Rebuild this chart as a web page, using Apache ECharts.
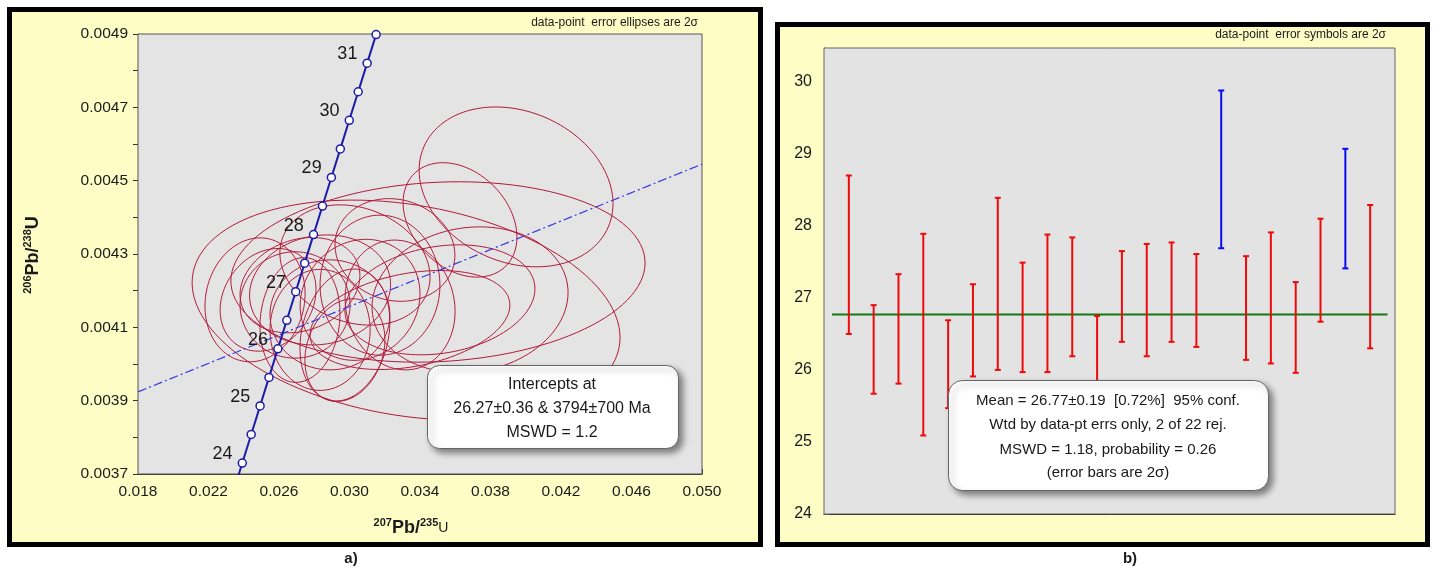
<!DOCTYPE html>
<html><head><meta charset="utf-8">
<script src="https://cdn.jsdelivr.net/npm/echarts@6/dist/echarts.min.js"></script>
<style>html,body{margin:0;padding:0;background:#fff;}#c{width:1434px;height:568px;}</style>
</head><body><div id="c"></div>
<script>
const FONT = '"Liberation Sans", Arial, sans-serif';

// ---------- Panel a) : concordia ----------
const LAMBDA238 = 1.55125e-10, LAMBDA235 = 9.8485e-10;
const concordiaAges = [23.5, 24, 24.5, 25, 25.5, 26, 26.5, 27, 27.5, 28, 28.5, 29, 29.5, 30, 30.5, 31, 31.5, 32];
const xTickLabels = ['0.018','0.022','0.026','0.030','0.034','0.038','0.042','0.046','0.050'];
const yTickLabels = ['0.0037','0.0039','0.0041','0.0043','0.0045','0.0047','0.0049'];
// discordia (regression) line end points
const discordiaX = [0.018, 0.050];
const discordiaY = [0.003924, 0.004545];
// error ellipses (2 sigma): centre, half-extents, correlation
const ellX   = [0.03321,0.03502,0.03945,0.03627,0.03684,0.02719,0.02833,0.02974,0.02691,0.02538,0.03060,0.03173,0.03287,0.03031,0.03513,0.03343,0.02833,0.02889,0.02464,0.03258,0.02974,0.02719];
const ellY   = [0.004147,0.004251,0.004483,0.004393,0.004175,0.004120,0.004093,0.004079,0.004161,0.004175,0.004175,0.004215,0.004161,0.004270,0.004175,0.004120,0.004202,0.004134,0.004175,0.004311,0.004038,0.004215];
const ellSX  = [0.01214,0.01175,0.00550,0.00323,0.00556,0.00227,0.00284,0.00255,0.00312,0.00272,0.00340,0.00340,0.00312,0.00426,0.00539,0.00567,0.00400,0.00340,0.00284,0.00340,0.00227,0.00340];
const ellSY  = [0.000300,0.000246,0.000218,0.000156,0.000199,0.000170,0.000165,0.000180,0.000145,0.000140,0.000165,0.000191,0.000177,0.000164,0.000150,0.000135,0.000150,0.000150,0.000169,0.000140,0.000140,0.000130];
const ellRho = [-0.25,0.1,-0.21,-0.3,0.1,0.1,0.0,0.2,0.0,0.2,0.1,0.0,-0.1,-0.2,0.2,0.3,0.1,0.0,0.1,-0.1,0.2,0.2];

// ---------- Panel b) : weighted mean ----------
const barLow  = [26.50,25.67,25.81,25.09,25.47,25.91,26.00,25.97,25.97,26.19,25.45,26.39,26.19,26.39,26.32,27.69,26.14,26.09,25.96,26.67,27.41,26.30];
const barHigh = [28.70,26.90,27.33,27.89,26.69,27.19,28.39,27.49,27.88,27.84,26.75,27.65,27.75,27.77,27.61,29.88,27.58,27.91,27.22,28.10,29.07,28.29];
const rejected = [16, 21];
const meanValue = 26.77;
const meanSpan = [0.32, 22.7];
const rightYLabels = ['24','25','26','27','28','29','30'];

const concData = concordiaAges.map(function (t) {
  const x = Math.exp(LAMBDA235 * t * 1e6) - 1;
  const y = Math.exp(LAMBDA238 * t * 1e6) - 1;
  const isMarker = t >= 24 && t <= 31.5;
  const isInt = Math.abs(t - Math.round(t)) < 1e-9 && t >= 24 && t <= 31;
  return {
    value: [x, y],
    symbol: isMarker ? 'circle' : 'none',
    label: isInt ? { show: true, formatter: String(t) } : { show: false }
  };
});

const chart = echarts.init(document.getElementById('c'), null, { renderer: 'canvas' });

const baseText = { fontFamily: FONT, fill: '#1a1a1a' };

chart.setOption({
  animation: false,
  textStyle: { fontFamily: FONT },
  grid: [
    { left: 138, top: 34, width: 564, height: 440, show: true, backgroundColor: '#E4E4E4', borderColor: '#555', borderWidth: 1, z: 1 },
    { left: 824, top: 48, width: 571, height: 466, show: true, backgroundColor: '#E3E3E3', borderColor: '#666', borderWidth: 1, z: 1 }
  ],
  xAxis: [
    { gridIndex: 0, type: 'value', min: 0.018, max: 0.050, interval: 0.002,
      axisLine: { onZero: false, lineStyle: { color: '#333' } },
      axisTick: { inside: true, length: 5, lineStyle: { color: '#333' } },
      splitLine: { show: false },
      axisLabel: { fontSize: 15.5, color: '#1a1a1a', margin: 10, fontFamily: FONT,
        formatter: function (v) { const i = Math.round((v - 0.018) / 0.002); return i % 2 === 0 ? xTickLabels[i / 2] : ''; } } },
    { gridIndex: 1, type: 'value', min: 0, max: 23,
      axisLine: { onZero: false, lineStyle: { color: '#111', width: 1 } },
      axisTick: { show: false }, axisLabel: { show: false }, splitLine: { show: false } }
  ],
  yAxis: [
    { gridIndex: 0, type: 'value', min: 0.0037, max: 0.0049, interval: 0.0001,
      axisLine: { onZero: false, lineStyle: { color: '#333' } },
      axisTick: { inside: false, length: 5, lineStyle: { color: '#333' } },
      splitLine: { show: false },
      axisLabel: { fontSize: 15.5, color: '#1a1a1a', margin: 10, fontFamily: FONT,
        formatter: function (v) { const k = Math.round(v * 1e4); return (k % 2 === 1) ? yTickLabels[(k - 37) / 2] : ''; } } },
    { gridIndex: 1, type: 'value', min: 24, max: 30.47, interval: 1,
      axisLine: { onZero: false, lineStyle: { color: '#666' } },
      axisTick: { show: false },
      splitLine: { show: true, lineStyle: { color: '#858585', width: 1 } },
      axisLabel: { fontSize: 16, color: '#1a1a1a', margin: 12, fontFamily: FONT,
        formatter: function (v) { const k = Math.round(v); return Math.abs(v - k) < 1e-6 ? rightYLabels[k - 24] : ''; } } },
    { gridIndex: 1, type: 'value', min: 24, max: 30.47, interval: 0.5,
      axisLine: { show: false }, axisLabel: { show: false }, splitLine: { show: false },
      axisTick: { show: true, inside: false, length: 5, lineStyle: { color: '#555' } } }
  ],
  series: [
    { type: 'custom', xAxisIndex: 0, yAxisIndex: 0, clip: true, z: 3,
      data: ellX.map(function (x, i) { return [x, ellY[i], ellSX[i], ellSY[i], ellRho[i]]; }),
      encode: { x: 0, y: 1 },
      renderItem: function (params, api) {
        const cx = api.value(0), cy = api.value(1), sx = api.value(2), sy = api.value(3), r = api.value(4);
        const q = Math.sqrt(1 - r * r);
        const pts = [];
        for (let k = 0; k < 120; k++) {
          const t = 2 * Math.PI * k / 120;
          pts.push(api.coord([cx + sx * Math.cos(t), cy + sy * (r * Math.cos(t) + q * Math.sin(t))]));
        }
        return { type: 'polygon', shape: { points: pts }, style: { fill: 'none', stroke: '#b2193a', lineWidth: 1 } };
      } },
    { type: 'line', xAxisIndex: 0, yAxisIndex: 0, z: 4, symbol: 'none',
      data: [[discordiaX[0], discordiaY[0]], [discordiaX[1], discordiaY[1]]],
      lineStyle: { color: '#3838e0', width: 1.2, type: [9, 3, 2, 3] } },
    { type: 'line', xAxisIndex: 0, yAxisIndex: 0, z: 5, data: concData,
      symbolSize: 8,
      itemStyle: { color: '#ffffff', borderColor: '#1c1ca8', borderWidth: 1.5 },
      lineStyle: { color: '#1c1ca8', width: 2 },
      label: { position: 'left', distance: 5, offset: [0, -9], fontSize: 18, color: '#1a1a1a', fontFamily: FONT } },
    { type: 'line', xAxisIndex: 1, yAxisIndex: 1, z: 3, symbol: 'none',
      data: [[meanSpan[0], meanValue], [meanSpan[1], meanValue]],
      lineStyle: { color: '#137a13', width: 2 } },
    { type: 'custom', xAxisIndex: 1, yAxisIndex: 1, z: 4,
      data: barLow.map(function (lo, i) { return [i + 1, lo, barHigh[i], rejected.indexOf(i + 1) >= 0 ? 1 : 0]; }),
      encode: { x: 0, y: [1, 2] },
      renderItem: function (params, api) {
        const i = api.value(0), lo = api.value(1), hi = api.value(2), rej = api.value(3);
        const p1 = api.coord([i, lo]), p2 = api.coord([i, hi]);
        const col = rej ? '#0a0aee' : '#ee0a0a';
        const st = { stroke: col, lineWidth: 2 };
        return { type: 'group', children: [
          { type: 'line', shape: { x1: p1[0], y1: p1[1], x2: p2[0], y2: p2[1] }, style: st },
          { type: 'line', shape: { x1: p1[0] - 3, y1: p1[1], x2: p1[0] + 3, y2: p1[1] }, style: st },
          { type: 'line', shape: { x1: p2[0] - 3, y1: p2[1], x2: p2[0] + 3, y2: p2[1] }, style: st }
        ] };
      } }
  ],
  graphic: [
    // panel backgrounds + black frames
    { type: 'rect', z: -10, shape: { x: 9.5, y: 9.5, width: 751, height: 535 }, style: { fill: '#FFFDC6', stroke: '#000', lineWidth: 5 } },
    { type: 'rect', z: -10, shape: { x: 777.5, y: 24.5, width: 650, height: 520 }, style: { fill: '#FFFDC6', stroke: '#000', lineWidth: 5 } },
    // corner notes
    { type: 'text', z: 10, style: Object.assign({}, baseText, { text: 'data-point  error ellipses are 2σ', x: 698, y: 23, align: 'right', verticalAlign: 'middle', fontSize: 12 }) },
    { type: 'text', z: 10, style: Object.assign({}, baseText, { text: 'data-point  error symbols are 2σ', x: 1386, y: 35, align: 'right', verticalAlign: 'middle', fontSize: 12 }) },
    // axis titles panel a
    { type: 'text', z: 10, style: { x: 411, y: 528, align: 'center', verticalAlign: 'middle', fontFamily: FONT, fill: '#1a1a1a',
        text: '{s|207}{b|Pb/}{s|235}{u|U}',
        rich: { s: { fontSize: 11, fontWeight: 'bold', verticalAlign: 'top', lineHeight: 12, fontFamily: FONT, fill: '#1a1a1a' },
                b: { fontSize: 18, fontWeight: 'bold', lineHeight: 22, fontFamily: FONT, fill: '#1a1a1a' },
                u: { fontSize: 14, lineHeight: 22, fontFamily: FONT, fill: '#1a1a1a' } } } },
    { type: 'text', z: 10, x: 33, y: 255, rotation: Math.PI / 2,
      style: { x: 0, y: 0, align: 'center', verticalAlign: 'middle', fontFamily: FONT, fill: '#1a1a1a',
        text: '{s|206}{b|Pb/}{s|238}{b|U}',
        rich: { s: { fontSize: 11, fontWeight: 'bold', verticalAlign: 'top', lineHeight: 12, fontFamily: FONT, fill: '#1a1a1a' },
                b: { fontSize: 18, fontWeight: 'bold', lineHeight: 22, fontFamily: FONT, fill: '#1a1a1a' } } } },
    // panel labels
    { type: 'text', z: 10, style: Object.assign({}, baseText, { text: 'a)', x: 351, y: 559, align: 'center', verticalAlign: 'middle', fontSize: 15, fontWeight: 'bold' }) },
    { type: 'text', z: 10, style: Object.assign({}, baseText, { text: 'b)', x: 1130, y: 559, align: 'center', verticalAlign: 'middle', fontSize: 15, fontWeight: 'bold' }) },
    // result box a
    { type: 'rect', z: 50, shape: { x: 427.5, y: 365.5, width: 251, height: 83, r: 12 },
      style: { fill: '#ffffff', stroke: '#666', lineWidth: 1, shadowBlur: 6, shadowOffsetX: 4, shadowOffsetY: 4, shadowColor: 'rgba(0,0,0,0.45)' } },
    { type: 'text', z: 51, style: Object.assign({}, baseText, { text: 'Intercepts at', x: 552, y: 385, align: 'center', verticalAlign: 'middle', fontSize: 16 }) },
    { type: 'text', z: 51, style: Object.assign({}, baseText, { text: '26.27±0.36 & 3794±700 Ma', x: 552, y: 409, align: 'center', verticalAlign: 'middle', fontSize: 16 }) },
    { type: 'text', z: 51, style: Object.assign({}, baseText, { text: 'MSWD = 1.2', x: 552, y: 433, align: 'center', verticalAlign: 'middle', fontSize: 16 }) },
    // result box b
    { type: 'rect', z: 50, shape: { x: 948.5, y: 380.5, width: 320, height: 110, r: 14 },
      style: { fill: '#ffffff', stroke: '#666', lineWidth: 1, shadowBlur: 6, shadowOffsetX: 4, shadowOffsetY: 4, shadowColor: 'rgba(0,0,0,0.45)' } },
    { type: 'text', z: 51, style: Object.assign({}, baseText, { text: 'Mean = 26.77±0.19  [0.72%]  95% conf.', x: 1108, y: 401, align: 'center', verticalAlign: 'middle', fontSize: 15 }) },
    { type: 'text', z: 51, style: Object.assign({}, baseText, { text: 'Wtd by data-pt errs only, 2 of 22 rej.', x: 1108, y: 425, align: 'center', verticalAlign: 'middle', fontSize: 15 }) },
    { type: 'text', z: 51, style: Object.assign({}, baseText, { text: 'MSWD = 1.18, probability = 0.26', x: 1108, y: 450, align: 'center', verticalAlign: 'middle', fontSize: 15 }) },
    { type: 'text', z: 51, style: Object.assign({}, baseText, { text: '(error bars are 2σ)', x: 1108, y: 473, align: 'center', verticalAlign: 'middle', fontSize: 15 }) }
  ]
});
</script></body></html>
